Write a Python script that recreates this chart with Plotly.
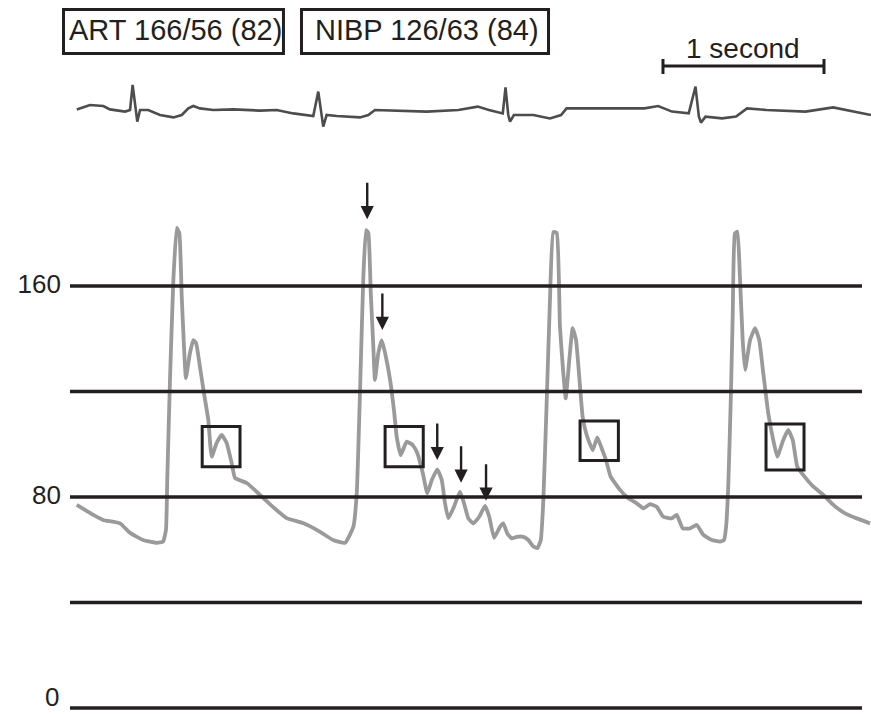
import plotly.graph_objects as go

# ---------------- data ----------------
# arterial pressure waveform: time (s) and pressure (mmHg)
art_t = [0.042, 0.145, 0.205, 0.311, 0.373, 0.453, 0.539, 0.578, 0.596, 0.604,
         0.621, 0.642, 0.663, 0.679, 0.694, 0.708, 0.720, 0.745, 0.766, 0.783,
         0.807, 0.832, 0.859, 0.880, 0.911, 0.942, 0.973, 1.004, 1.025, 1.098,
         1.180, 1.261, 1.346, 1.447, 1.553, 1.634, 1.708, 1.760, 1.781, 1.801,
         1.822, 1.839, 1.853, 1.868, 1.884, 1.894, 1.915, 1.936, 1.957, 1.988,
         2.012, 2.029, 2.054, 2.091, 2.129, 2.157, 2.191, 2.219, 2.247, 2.281,
         2.309, 2.329, 2.350, 2.385, 2.422, 2.447, 2.474, 2.505, 2.542, 2.578,
         2.604, 2.634, 2.671, 2.691, 2.716, 2.743, 2.775, 2.816, 2.847, 2.878,
         2.903, 2.924, 2.940, 2.961, 2.981, 3.002, 3.023, 3.043, 3.064, 3.079,
         3.101, 3.122, 3.143, 3.163, 3.184, 3.209, 3.247, 3.275, 3.302, 3.329,
         3.358, 3.416, 3.468, 3.520, 3.561, 3.602, 3.644, 3.685, 3.737, 3.768,
         3.806, 3.851, 3.893, 3.934, 3.986, 4.037, 4.062, 4.075, 4.089, 4.104,
         4.116, 4.130, 4.145, 4.161, 4.178, 4.193, 4.224, 4.255, 4.281, 4.306,
         4.337, 4.368, 4.393, 4.430, 4.461, 4.489, 4.517, 4.555, 4.617, 4.679,
         4.741, 4.814, 4.886, 4.969]
art_p = [77.0, 73.2, 71.3, 70.0, 66.4, 63.7, 62.6, 63.1, 67.5, 86.4,
         124.4, 162.3, 182.0, 180.1, 155.9, 137.0, 125.1, 134.6, 139.5, 138.4,
         129.4, 119.4, 109.2, 95.3, 100.5, 103.5, 100.5, 92.9, 87.2, 85.3,
         80.8, 76.2, 72.0, 70.1, 66.8, 63.7, 62.6, 68.7, 81.4, 119.4,
         163.5, 181.2, 180.1, 157.3, 137.0, 124.4, 134.6, 139.5, 134.6, 124.4,
         113.0, 102.9, 95.9, 101.0, 99.7, 96.7, 89.1, 81.4, 86.4, 90.5,
         86.4, 77.7, 71.9, 76.3, 82.0, 77.7, 71.9, 70.0, 72.5, 76.6,
         72.5, 64.5, 68.7, 70.0, 66.2, 64.3, 64.9, 64.9, 63.7, 61.2,
         60.6, 63.7, 78.9, 116.8, 154.7, 180.5, 180.1, 144.6, 126.9, 117.4,
         131.9, 144.0, 139.5, 125.6, 110.4, 103.5, 97.8, 102.6, 98.5, 94.0,
         87.7, 82.7, 79.5, 77.6, 75.7, 77.3, 76.3, 72.5, 71.9, 73.2,
         68.1, 68.1, 69.4, 65.6, 63.7, 63.1, 63.7, 68.7, 85.2, 116.8,
         148.4, 180.0, 180.6, 163.5, 139.5, 128.2, 139.5, 144.0, 139.5, 126.9,
         111.7, 101.6, 95.3, 101.6, 105.4, 101.6, 91.5, 88.3, 83.9, 80.8,
         77.0, 73.8, 71.9, 70.0]

# ECG trace: time (s) and amplitude (mV)
ecg_t = [0.042, 0.124, 0.207, 0.248, 0.342, 0.373, 0.389, 0.404, 0.418, 0.435,
         0.486, 0.559, 0.642, 0.694, 0.735, 0.766, 0.807, 0.890, 1.014, 1.180,
         1.284, 1.387, 1.511, 1.542, 1.563, 1.573, 1.594, 1.657, 1.801, 1.853,
         1.894, 2.008, 2.216, 2.412, 2.532, 2.602, 2.688, 2.705, 2.722, 2.733,
         2.757, 2.878, 2.981, 3.050, 3.084, 3.222, 3.429, 3.568, 3.653, 3.739,
         3.843, 3.885, 3.906, 3.919, 3.947, 4.050, 4.137, 4.205, 4.326, 4.568,
         4.740, 4.878, 4.975]
ecg_mv = [0.03, 0.25, 0.20, 0.03, -0.08, 0.0, 1.25, 0.17, -0.58, 0.0,
          0.0, -0.25, -0.37, -0.25, 0.08, 0.20, 0.08, 0.0, 0.03, -0.03,
          0.0, -0.17, -0.30, 0.92, -0.17, -0.83, -0.25, -0.30, -0.37, -0.25,
          0.0, -0.03, -0.08, 0.0, 0.17, 0.0, -0.17, 1.13, -0.25, -0.58,
          -0.25, -0.25, -0.42, -0.25, 0.08, 0.08, 0.08, 0.08, 0.20, -0.08,
          -0.17, 1.17, -0.33, -0.63, -0.33, -0.42, -0.33, 0.08, 0.0, -0.08,
          0.13, -0.08, -0.25]

# reference pressure levels (mmHg) and labelled ticks
levels = [0, 40, 80, 120, 160]
tick_vals = [80, 160]
tick_text = ["80", "160"]
zero_label = "0"

# arrows (tip positions: time s, pressure mmHg)
arrow_t = [1.846, 1.940, 2.281, 2.429, 2.584]
arrow_p = [185.3, 143.3, 94.0, 85.4, 78.6]

# dicrotic-notch boxes
box_t0 = [0.821, 1.957, 3.168, 4.323]
box_t1 = [1.056, 2.194, 3.406, 4.559]
box_p0 = [91.5, 91.5, 93.8, 90.2]
box_p1 = [106.7, 106.7, 108.8, 107.7]

# header readouts
readouts = ["ART 166/56 (82)", "NIBP 126/63 (84)"]

# time scale bar (s)
scale_start = 3.683
scale_len = 1.0
scale_label = "1 second"

# ---------------- figure ----------------
INK = "#231f20"
FONT = "Liberation Sans, Arial, Helvetica, sans-serif"
X_END = 4.975
LINE_END = 4.919

fig = go.Figure()

fig.add_trace(go.Scatter(x=art_t, y=art_p, mode="lines",
                         line=dict(color="#9a9a9a", width=3.8, shape="spline",
                                   smoothing=0.4),
                         hoverinfo="skip", showlegend=False))

lx, ly = [], []
for lv in levels:
    lx += [0, LINE_END, None]
    ly += [lv, lv, None]
fig.add_trace(go.Scatter(x=lx, y=ly, mode="lines",
                         line=dict(color=INK, width=3.3),
                         hoverinfo="skip", showlegend=False))

fig.add_trace(go.Scatter(x=ecg_t, y=ecg_mv, mode="lines", yaxis="y2",
                         line=dict(color="#4d4d4d", width=2.6),
                         hoverinfo="skip", showlegend=False))

# scale bar
bar_y = 2.2
sx = [scale_start, scale_start + scale_len, None,
      scale_start, scale_start, None,
      scale_start + scale_len, scale_start + scale_len]
sy = [bar_y, bar_y, None, bar_y + 0.35, bar_y - 0.4, None, bar_y + 0.35, bar_y - 0.4]
fig.add_trace(go.Scatter(x=sx, y=sy, mode="lines", yaxis="y2",
                         line=dict(color=INK, width=3),
                         hoverinfo="skip", showlegend=False))

annotations = []
for t, p in zip(arrow_t, arrow_p):
    annotations.append(dict(x=t, y=p, xref="x", yref="y", text="", showarrow=True,
                            ax=0, ay=-38, arrowhead=2, arrowsize=1.1,
                            arrowwidth=2.4, arrowcolor=INK))

# header readout boxes (paper coordinates) and their text
hdr_x0 = [-0.0081, 0.2890]
hdr_x1 = [0.2665, 0.5974]
hdr_xc = [0.1311, 0.4463]
shapes = []
for txt, a, b, xc in zip(readouts, hdr_x0, hdr_x1, hdr_xc):
    shapes.append(dict(type="rect", xref="paper", yref="paper", x0=a, x1=b,
                       y0=0.9251, y1=0.9867, line=dict(color=INK, width=3),
                       fillcolor="rgba(0,0,0,0)"))
    annotations.append(dict(x=xc, y=0.9573, xref="paper", yref="paper",
                            text=txt, showarrow=False, xanchor="center",
                            yanchor="middle",
                            font=dict(family=FONT, size=29, color=INK)))

annotations.append(dict(x=scale_start + scale_len / 2, y=0.9314, xref="x",
                        yref="paper", text=scale_label, showarrow=False,
                        xanchor="center", yanchor="middle",
                        font=dict(family=FONT, size=28, color=INK)))

# "0" level label (kept inside the page edge)
annotations.append(dict(x=-0.0112, y=0, xref="paper", yref="paper",
                        text=zero_label, showarrow=False, xanchor="right",
                        yanchor="bottom",
                        font=dict(family=FONT, size=26, color=INK)))

for a, b, c, d in zip(box_t0, box_t1, box_p0, box_p1):
    shapes.append(dict(type="rect", xref="x", yref="y", x0=a, x1=b, y0=c, y1=d,
                       line=dict(color=INK, width=3), fillcolor="rgba(0,0,0,0)"))

fig.update_layout(
    width=871, height=714, autosize=False,
    margin=dict(l=70, r=0, t=0, b=0, autoexpand=False),
    paper_bgcolor="white", plot_bgcolor="white",
    showlegend=False,
    xaxis=dict(range=[0, X_END], visible=False, fixedrange=True,
               automargin=False),
    yaxis=dict(range=[-2.275, 268.44], tickvals=tick_vals, ticktext=tick_text,
               showgrid=False, zeroline=False, showline=False, ticks="",
               ticklabelstandoff=8, ticklabeloverflow="allow",
               ticklabelshift=-2, automargin=False,
               tickfont=dict(family=FONT, size=26, color=INK), fixedrange=True),
    yaxis2=dict(range=[-30.2, 5.5], overlaying="y", visible=False,
                fixedrange=True),
    annotations=annotations,
    shapes=shapes,
)

fig.write_html("out.html", config={"displayModeBar": False},
               post_script="document.body.style.margin='0px';document.body.style.overflow='hidden';")
